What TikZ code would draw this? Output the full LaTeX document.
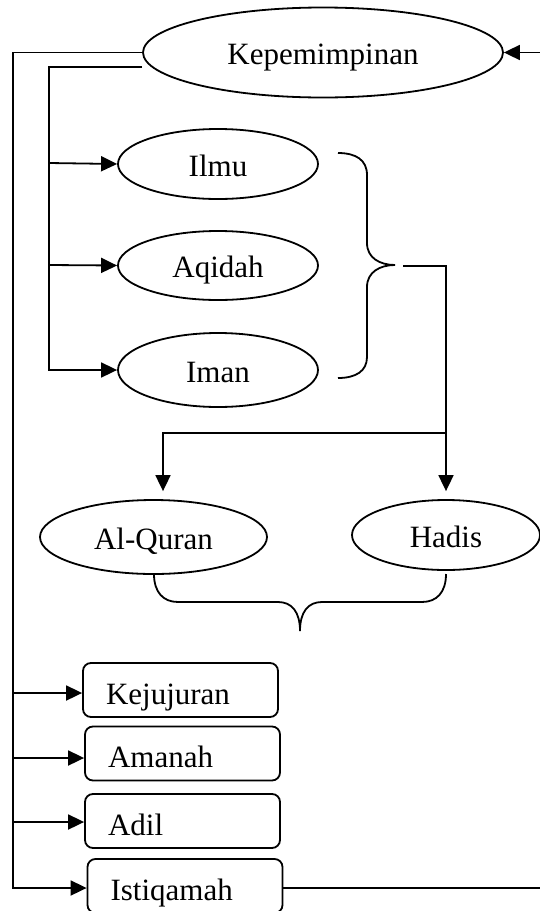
\documentclass[tikz,border=0pt]{standalone}
\usepackage{fontspec}
\setmainfont{Liberation Serif}
\usetikzlibrary{arrows.meta,calc,shapes.geometric}
\begin{document}
\begin{tikzpicture}[x=1pt,y=-1pt,line width=1.8pt,
  every node/.style={font=\fontsize{31}{36}\selectfont},
  ell/.style={draw,ellipse,inner sep=0pt,text height=24pt,text depth=0pt},
  box/.style={draw,rectangle,rounded corners=8pt,minimum width=195pt,minimum height=54pt,inner ysep=0pt,inner xsep=23pt,text width=149pt,align=left,text height=28pt,text depth=0pt},
  arr/.style={-{Triangle[length=16pt,width=15pt]}}]
\useasboundingbox (0,0) rectangle (539,911);

% nodes
\node[ell,minimum width=360pt,minimum height=90pt] (kep) at (323,52.5) {Kepemimpinan};
\node[ell,minimum width=200pt,minimum height=70pt] (ilmu) at (218,164) {Ilmu};
\node[ell,minimum width=200pt,minimum height=69pt] (aqi) at (218,265.5) {Aqidah};
\node[ell,minimum width=200pt,minimum height=74pt] (iman) at (218,370) {Iman};
\node[ell,minimum width=227pt,minimum height=74pt] (alq) at (153.5,537) {Al-Quran};
\node[ell,minimum width=188pt,minimum height=70pt] (had) at (446,535) {Hadis};
\node[box] (kej) at (180.5,690) {Kejujuran};
\node[box] (ama) at (182.5,753.5) {Amanah};
\node[box] (adil) at (182.5,821) {Adil};
\node[box] (ist) at (185,886) {Istiqamah};

% outer left connector
\coordinate (o1) at (13.3,52.5);
\coordinate (o2) at (13.3,888);
\coordinate (k1) at (13.3,693);
\coordinate (k2) at (13.3,758);
\coordinate (k3) at (13.3,822);
\draw[arr] (kep.west) -- (o1) -- (o2) -- (ist.west |- o2);
\draw[arr] (k1) -- (kej.west |- k1);
\draw[arr] (k2) -- (ama.west |- k2);
\draw[arr] (k3) -- (adil.west |- k3);

% inner left connector
\coordinate (i0) at ($(kep.west)+(0,14.8)$);
\coordinate (i1) at (49,67.3);
\coordinate (i2) at (49,163);
\coordinate (i3) at (49,265);
\coordinate (i4) at (49,370);
\draw[arr] (i0) -- (i1) -- (i4) -- (iman.west);
\draw[arr] (i2) -- (ilmu.west);
\draw[arr] (i3) -- (aqi.west);

% right brace
\coordinate (btip) at (395,265);
\draw (338,153) .. controls (356,153) and (367,160) .. (367,175) -- (367,243)
  .. controls (367,258) and (380,265) .. (btip)
  .. controls (380,265) and (367,272) .. (367,287) -- (367,357)
  .. controls (367,371) and (356,378) .. (338,378);

% branch to Al-Quran and Hadis
\coordinate (b1) at (403,266);
\coordinate (j) at (446,433.3);
\coordinate (aq) at ($(alq.north)+(9.5,-8)$);
\draw[arr,shorten >=8pt] (b1) -| (had.north);
\draw[arr] (j) -| (aq);

% bottom brace
\coordinate (btip2) at (300,631);
\draw (154,574) .. controls (154,592) and (163,602) .. (178,602) -- (278,602)
  .. controls (292,602) and (300,612) .. (btip2)
  .. controls (300,612) and (308,602) .. (322,602) -- (422,602)
  .. controls (437,602) and (446,592) .. (446,574);

% right return
\coordinate (r1) at (541,888);
\coordinate (r2) at (541,52.5);
\draw[arr] (ist.east |- r1) -- (r1) -- (r2) -- (kep.east);
\end{tikzpicture}
\end{document}
